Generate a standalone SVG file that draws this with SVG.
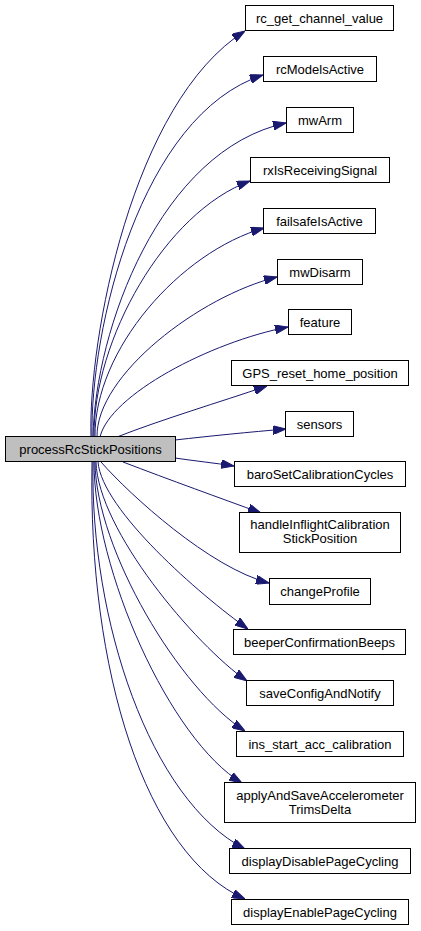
<svg xmlns="http://www.w3.org/2000/svg" width="421" height="931" viewBox="0 0 421 931">
<style>
.n rect{fill:#ffffff;stroke:#000000;stroke-width:1}
.root rect{fill:#bfbfbf}
text{font-family:"Liberation Sans",Arial,sans-serif;font-size:13px;fill:#000000;text-anchor:middle}
.e path{fill:none;stroke:#191970;stroke-width:1;marker-end:url(#ah)}
</style>
<defs>
<marker id="ah" viewBox="0 0 13 9" refX="13" refY="4.5" markerWidth="13" markerHeight="9" markerUnits="userSpaceOnUse" orient="auto">
<path d="M0,0 L13,4.5 L0,9 z" fill="#191970" stroke="#191970" stroke-width="1"/>
</marker>
</defs>
<rect width="421" height="931" fill="#ffffff"/>
<g class="e" id="edges">
<path d="M91,437 C88,340 132,102 245,31"/>
<path d="M92,437 C90,330 140,115 263,75"/>
<path d="M93,437 C95,330 160,150 286,123"/>
<path d="M94,437 C93,340 165,212 250,181"/>
<path d="M95,437 C94,350 180,252 264,228"/>
<path d="M97,437 C96,375 200,296 277,277"/>
<path d="M100,437 C110,395 210,342 288,327"/>
<path d="M117,437 C160,420 220,402 267,386"/>
<path d="M175,440 C210,436 250,432 286,429"/>
<path d="M175,458 C195,461 215,463 234,466"/>
<path d="M123,462 C170,480 220,498 261,513"/>
<path d="M101,462 C130,495 210,568 269,583"/>
<path d="M98,462 C102,510 200,595 248,629"/>
<path d="M96,462 C98,530 195,645 247,681"/>
<path d="M95,462 C96,550 180,690 245,731"/>
<path d="M94,462 C94,570 170,740 242,783"/>
<path d="M93,462 C90,620 150,800 245,849"/>
<path d="M92,462 C88,670 145,855 245,899"/>
</g>
<g class="n root" id="processRcStickPositions"><rect x="5.5" y="436.5" width="170" height="25"/><text x="90.5" y="454">processRcStickPositions</text></g>
<g class="n" id="rc_get_channel_value"><rect x="245.5" y="5.5" width="148" height="25"/><text x="319.5" y="23">rc_get_channel_value</text></g>
<g class="n" id="rcModelsActive"><rect x="263.5" y="56.5" width="113" height="25"/><text x="320" y="74">rcModelsActive</text></g>
<g class="n" id="mwArm"><rect x="286.5" y="107.5" width="67" height="25"/><text x="320" y="125">mwArm</text></g>
<g class="n" id="rxIsReceivingSignal"><rect x="250.5" y="157.5" width="139" height="25"/><text x="320" y="175">rxIsReceivingSignal</text></g>
<g class="n" id="failsafeIsActive"><rect x="263.5" y="208.5" width="112" height="25"/><text x="319.5" y="226">failsafeIsActive</text></g>
<g class="n" id="mwDisarm"><rect x="277.5" y="259.5" width="85" height="25"/><text x="320" y="277">mwDisarm</text></g>
<g class="n" id="feature"><rect x="288.5" y="309.5" width="63" height="25"/><text x="320" y="327">feature</text></g>
<g class="n" id="GPS_reset_home_position"><rect x="231.5" y="360.5" width="177" height="25"/><text x="320" y="378">GPS_reset_home_position</text></g>
<g class="n" id="sensors"><rect x="285.5" y="411.5" width="68" height="25"/><text x="319.5" y="429">sensors</text></g>
<g class="n" id="baroSetCalibrationCycles"><rect x="234.5" y="461.5" width="171" height="25"/><text x="320" y="479">baroSetCalibrationCycles</text></g>
<g class="n" id="handleInflightCalibrationStickPosition"><rect x="239.5" y="512.5" width="161" height="40"/><text x="320" y="529">handleInflightCalibration</text><text x="320" y="543">StickPosition</text></g>
<g class="n" id="changeProfile"><rect x="269.5" y="578.5" width="101" height="26"/><text x="320" y="596">changeProfile</text></g>
<g class="n" id="beeperConfirmationBeeps"><rect x="233.5" y="629.5" width="172" height="25"/><text x="319.5" y="647">beeperConfirmationBeeps</text></g>
<g class="n" id="saveConfigAndNotify"><rect x="246.5" y="680.5" width="147" height="25"/><text x="320" y="698">saveConfigAndNotify</text></g>
<g class="n" id="ins_start_acc_calibration"><rect x="236.5" y="731.5" width="167" height="25"/><text x="320" y="749">ins_start_acc_calibration</text></g>
<g class="n" id="applyAndSaveAccelerometerTrimsDelta"><rect x="224.5" y="782.5" width="191" height="40"/><text x="320" y="800">applyAndSaveAccelerometer</text><text x="320" y="814">TrimsDelta</text></g>
<g class="n" id="displayDisablePageCycling"><rect x="229.5" y="848.5" width="181" height="25"/><text x="320" y="866">displayDisablePageCycling</text></g>
<g class="n" id="displayEnablePageCycling"><rect x="231.5" y="899.5" width="177" height="25"/><text x="320" y="917">displayEnablePageCycling</text></g>
</svg>
